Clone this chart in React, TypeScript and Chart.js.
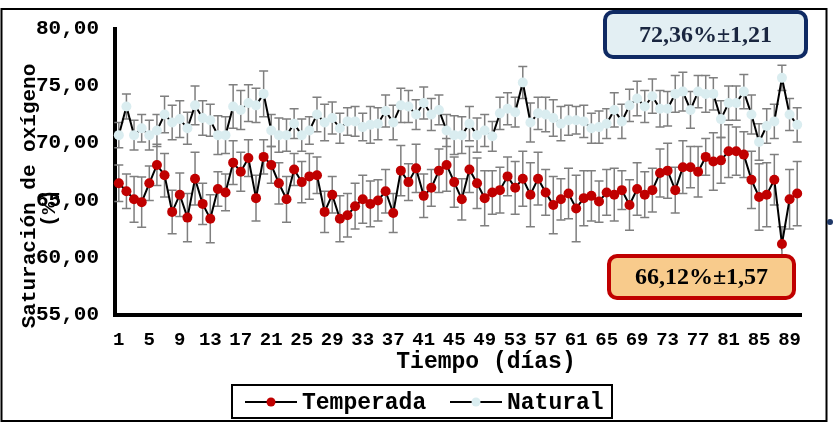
import React, { useEffect, useRef } from 'react';
import { Chart, registerables } from 'chart.js';

Chart.register(...registerables);

const DAYS = [
  1, 2, 3, 4, 5, 6, 7, 8, 9, 10, 11, 12, 13, 14, 15, 16, 17, 18, 19, 20,
  21, 22, 23, 24, 25, 26, 27, 28, 29, 30, 31, 32, 33, 34, 35, 36, 37, 38, 39, 40,
  41, 42, 43, 44, 45, 46, 47, 48, 49, 50, 51, 52, 53, 54, 55, 56, 57, 58, 59, 60,
  61, 62, 63, 64, 65, 66, 67, 68, 69, 70, 71, 72, 73, 74, 75, 76, 77, 78, 79, 80,
  81, 82, 83, 84, 85, 86, 87, 88, 89, 90,
];

const X_TICK_LABELS = ['1', '5', '9', '13', '17', '21', '25', '29', '33', '37', '41', '45', '49', '53', '57', '61', '65', '69', '73', '77', '81', '85', '89'];

const Y_TICKS = [55, 60, 65, 70, 75, 80];

const TEMPERADA = [
  66.5, 65.8, 65.1, 64.85, 66.5, 68.1, 67.2, 64.0, 65.5, 63.5,
  66.9, 64.7, 63.4, 66.0, 65.7, 68.3, 67.5, 68.7, 65.2, 68.8,
  68.1, 66.5, 65.1, 67.7, 66.6, 67.1, 67.2, 64.0, 65.5, 63.4,
  63.7, 64.5, 65.1, 64.7, 65.0, 65.8, 63.9, 67.6, 66.6, 67.8,
  65.4, 66.1, 67.6, 68.1, 66.6, 65.1, 67.7, 66.5, 65.2, 65.7,
  65.9, 67.1, 66.1, 66.9, 65.5, 66.9, 65.7, 64.6, 65.1, 65.6,
  64.3, 65.2, 65.4, 64.9, 65.7, 65.5, 65.9, 64.6, 66.0, 65.5,
  65.9, 67.4, 67.6, 65.9, 67.9, 67.9, 67.5, 68.8, 68.4, 68.5,
  69.3, 69.3, 69.0, 66.8, 65.3, 65.5, 66.8, 61.2, 65.1, 65.6,
];

const TEMPERADA_ERR = [
  1.6, 1.5, 2.0, 2.2, 1.5, 1.8, 1.9, 1.9, 1.9, 2.1,
  2.3, 1.8, 2.1, 1.5, 1.6, 1.9, 1.7, 1.6, 2.0, 1.5,
  1.6, 1.8, 2.0, 1.4, 1.8, 2.0, 1.6, 1.8, 1.6, 2.0,
  1.9, 2.0, 2.1, 2.0, 1.8, 1.9, 1.7, 2.2, 1.6, 2.1,
  1.9, 1.6, 1.9, 2.3, 2.2, 1.8, 2.0, 2.2, 2.4, 1.9,
  2.0, 1.7, 2.3, 2.4, 2.8, 2.3, 2.0, 2.5, 1.8, 2.2,
  2.9, 2.4, 2.2, 1.8, 2.0, 2.3, 1.7, 2.2, 2.3, 2.0,
  1.9, 2.1, 2.4, 2.0, 2.3, 1.8, 2.2, 1.6, 2.5, 2.0,
  2.3, 2.1, 2.0, 2.5, 2.9, 2.8, 2.2, 1.5, 2.6, 2.8,
];

const NATURAL = [
  70.7, 73.2, 70.7, 71.3, 70.7, 71.1, 72.5, 71.8, 72.1, 71.3,
  73.3, 72.2, 72.0, 70.7, 70.7, 73.2, 72.9, 73.5, 73.3, 74.3,
  71.1, 70.7, 70.7, 71.7, 70.7, 71.1, 72.5, 71.8, 72.2, 71.3,
  71.9, 71.9, 71.4, 71.6, 71.7, 72.8, 71.8, 73.3, 73.2, 72.5,
  73.5, 72.5, 72.9, 71.1, 70.7, 70.7, 71.7, 70.7, 71.1, 70.6,
  72.6, 73.0, 72.7, 75.3, 71.8, 72.6, 72.5, 72.2, 71.7, 72.0,
  72.0, 71.9, 71.3, 71.4, 71.7, 72.9, 71.9, 73.3, 73.9, 73.2,
  74.1, 73.0, 73.0, 74.3, 74.5, 72.9, 74.5, 74.3, 74.3, 72.1,
  73.5, 73.5, 74.5, 72.5, 70.1, 71.5, 71.9, 75.7, 72.5, 71.6,
];

const NATURAL_ERR = [
  1.1, 1.1, 1.3, 1.2, 1.3, 1.4, 1.6, 1.5, 1.6, 1.4,
  1.7, 1.5, 1.4, 1.7, 1.6, 1.9, 1.7, 1.6, 1.5, 2.0,
  1.4, 1.5, 1.4, 1.3, 1.4, 1.2, 1.5, 1.6, 1.4, 1.3,
  1.2, 1.3, 1.2, 1.6, 1.4, 1.4, 1.5, 1.5, 1.4, 1.3,
  1.4, 1.4, 1.3, 1.4, 1.7, 1.6, 1.5, 1.5, 1.4, 1.3,
  1.4, 1.4, 1.3, 1.4, 1.7, 1.4, 1.5, 1.6, 1.5, 1.3,
  1.2, 1.4, 1.3, 1.4, 1.3, 1.5, 1.5, 1.4, 1.5, 1.4,
  1.5, 1.6, 1.5, 1.6, 1.7, 1.6, 1.4, 1.6, 1.4, 1.6,
  1.5, 1.5, 1.5, 1.7, 1.6, 1.5, 1.5, 1.1, 1.4, 1.5,
];

const SERIES_NAMES = ['Temperada', 'Natural'];
const SERIES_COLORS = ['#c00000', '#daedf0'];
const NATURAL_SUMMARY = '72,36%±1,21';
const TEMPERADA_SUMMARY = '66,12%±1,57';
const X_TITLE = 'Tiempo (días)';
const Y_TITLE = ['Saturación de oxígeno', '(%)'];

const MONO = '"Liberation Mono", "Courier New", monospace';
const SERIF = '"Liberation Serif", "Times New Roman", serif';

const errorBarPlugin = {
  id: 'errorBars',
  beforeDatasetsDraw(chart: any) {
    const { ctx } = chart;
    const y = chart.scales.y;
    ctx.save();
    ctx.strokeStyle = '#7f7f7f';
    ctx.lineWidth = 1.5;
    chart.data.datasets.forEach((ds: any, i: number) => {
      const meta = chart.getDatasetMeta(i);
      meta.data.forEach((pt: any, j: number) => {
        const v = ds.data[j];
        const e = ds.errors[j];
        const x = pt.x;
        const y1 = y.getPixelForValue(v + e);
        const y2 = y.getPixelForValue(v - e);
        ctx.beginPath();
        ctx.moveTo(x, y1);
        ctx.lineTo(x, y2);
        ctx.moveTo(x - 4.5, y1);
        ctx.lineTo(x + 4.5, y1);
        ctx.moveTo(x - 4.5, y2);
        ctx.lineTo(x + 4.5, y2);
        ctx.stroke();
      });
    });
    ctx.restore();
  },
};

function drawBox(ctx: CanvasRenderingContext2D, x: number, y: number, w: number, h: number, stroke: string, fill: string, text: string, textColor: string) {
  ctx.save();
  ctx.beginPath();
  (ctx as any).roundRect(x, y, w, h, 8);
  ctx.fillStyle = fill;
  ctx.fill();
  ctx.lineWidth = 4;
  ctx.strokeStyle = stroke;
  ctx.stroke();
  ctx.fillStyle = textColor;
  ctx.font = `bold 24px ${SERIF}`;
  ctx.textAlign = 'center';
  ctx.textBaseline = 'middle';
  ctx.fillText(text, x + w / 2, y + h / 2 + 1);
  ctx.restore();
}

const decorPlugin = {
  id: 'decor',
  afterDraw(chart: any) {
    const { ctx } = chart;
    ctx.save();
    ctx.strokeStyle = '#000';
    ctx.lineWidth = 2;
    ctx.strokeRect(1.5, 9, 825, 412);
    ctx.fillStyle = '#1f3868';
    ctx.beginPath();
    ctx.arc(830, 222, 3, 0, Math.PI * 2);
    ctx.fill();

    ctx.fillStyle = '#000';
    ctx.font = `bold 21px ${MONO}`;
    ctx.textAlign = 'center';
    ctx.textBaseline = 'middle';
    ctx.save();
    ctx.translate(30, 196);
    ctx.rotate(-Math.PI / 2);
    ctx.fillText(Y_TITLE[0], 0, 0);
    ctx.restore();
    ctx.save();
    ctx.translate(50, 208);
    ctx.rotate(-Math.PI / 2);
    ctx.fillText(Y_TITLE[1], 0, 0);
    ctx.restore();

    ctx.font = `bold 23px ${MONO}`;
    ctx.fillText(X_TITLE, 486, 362);

    ctx.lineWidth = 2;
    ctx.strokeStyle = '#000';
    ctx.strokeRect(232, 385, 380, 33);
    const items = [
      { lx: 245, name: SERIES_NAMES[0], color: SERIES_COLORS[0] },
      { lx: 450, name: SERIES_NAMES[1], color: SERIES_COLORS[1] },
    ];
    ctx.font = `bold 23px ${MONO}`;
    ctx.textAlign = 'left';
    items.forEach((it) => {
      const ly = 402;
      ctx.strokeStyle = '#000';
      ctx.lineWidth = 2;
      ctx.beginPath();
      ctx.moveTo(it.lx, ly);
      ctx.lineTo(it.lx + 52, ly);
      ctx.stroke();
      ctx.fillStyle = it.color;
      ctx.beginPath();
      ctx.arc(it.lx + 26, ly, 4.5, 0, Math.PI * 2);
      ctx.fill();
      ctx.fillStyle = '#000';
      ctx.fillText(it.name, it.lx + 57, ly + 1);
    });

    drawBox(ctx, 605, 12, 201, 45, '#0f2a63', '#e3eff3', NATURAL_SUMMARY, '#1a2640');
    drawBox(ctx, 609, 256, 185, 42, '#c00000', '#f8cb8c', TEMPERADA_SUMMARY, '#000');
    ctx.restore();
  },
};

export default function App() {
  const ref = useRef<HTMLCanvasElement | null>(null);

  useEffect(() => {
    document.body.style.margin = '0';
    const canvas = ref.current;
    if (!canvas) return;
    const chart = new Chart(canvas, {
      type: 'line',
      data: {
        labels: DAYS.map(String),
        datasets: [
          {
            label: SERIES_NAMES[0],
            data: TEMPERADA,
            errors: TEMPERADA_ERR,
            borderColor: '#000',
            borderWidth: 2,
            pointRadius: 5,
            pointHoverRadius: 5,
            pointBorderWidth: 0,
            pointBackgroundColor: SERIES_COLORS[0],
            tension: 0,
          } as any,
          {
            label: SERIES_NAMES[1],
            data: NATURAL,
            errors: NATURAL_ERR,
            borderColor: '#000',
            borderWidth: 2,
            pointRadius: 5,
            pointHoverRadius: 5,
            pointBorderWidth: 0,
            pointBackgroundColor: SERIES_COLORS[1],
            tension: 0,
          } as any,
        ],
      },
      options: {
        responsive: false,
        animation: false,
        events: [],
        layout: { padding: { left: 0, top: 25, right: 32, bottom: 0 } },
        plugins: {
          legend: { display: false },
          tooltip: { enabled: false },
        },
        scales: {
          x: {
            type: 'category',
            offset: true,
            grid: { display: false, drawTicks: false },
            border: { display: true, color: '#000', width: 4 },
            ticks: {
              autoSkip: false,
              maxRotation: 0,
              minRotation: 0,
              padding: 14,
              color: '#000',
              font: { family: MONO, weight: 'bold', size: 19 },
              callback: (_v: any, i: number) => {
                const lbl = String(DAYS[i]);
                return X_TICK_LABELS.includes(lbl) ? lbl : '';
              },
            },
            afterFit: (s: any) => {
              s.height = 111;
            },
          },
          y: {
            min: 55,
            max: 80,
            grid: { display: false, drawTicks: false },
            border: { display: true, color: '#000', width: 4 },
            afterBuildTicks: (s: any) => {
              s.ticks = Y_TICKS.map((v) => ({ value: v }));
            },
            ticks: {
              padding: 16,
              color: '#000',
              font: { family: MONO, weight: 'bold', size: 21 },
              callback: (v: any) => Number(v).toFixed(2).replace('.', ','),
            },
            afterFit: (s: any) => {
              s.width = 115;
            },
          },
        },
      },
      plugins: [errorBarPlugin, decorPlugin],
    } as any);
    return () => chart.destroy();
  }, []);

  return (
    <div style={{ width: 833, height: 426 }}>
      <canvas ref={ref} width={833} height={426} style={{ display: 'block' }} />
    </div>
  );
}
